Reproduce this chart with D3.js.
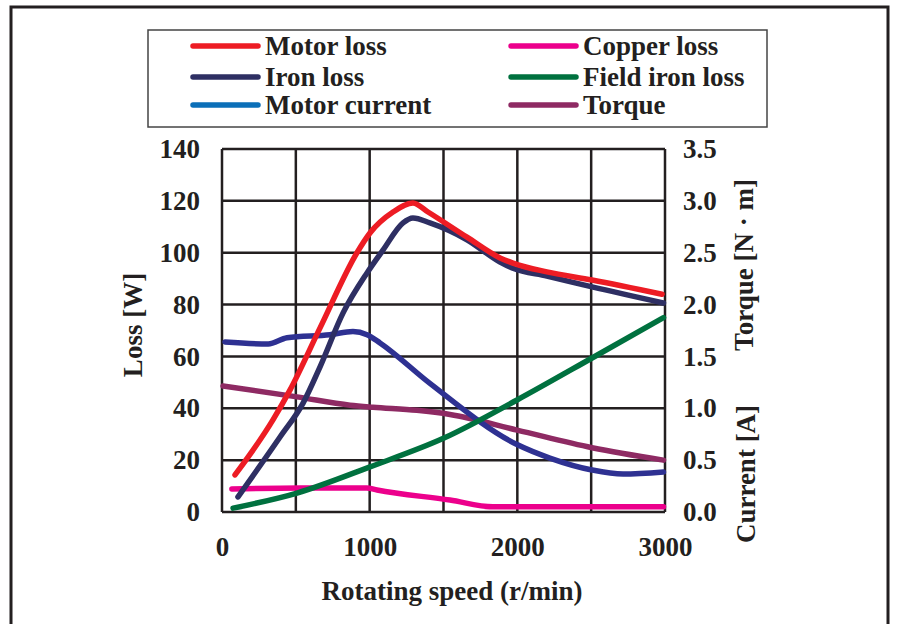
<!DOCTYPE html>
<html>
<head>
<meta charset="utf-8">
<script src="https://cdn.jsdelivr.net/npm/d3@7"></script>
<style>
  body { margin: 0; background: #fff; }
  text { font-family: "Liberation Serif", "Times New Roman", serif; font-weight: bold; fill: #231f20; }
</style>
</head>
<body>
<div id="chart"></div>
<script>
var svgWidth = 898;
var svgHeight = 624;
var plot = { left: 222, right: 665, top: 149, bottom: 512 };

// data (speed in r/min)
var motorLossSpeed = [88, 345, 460, 664, 914, 1002, 1158, 1293, 1395, 1659, 1883, 1970, 2200, 2506, 2980];
var motorLoss = [14.3, 35.5, 47, 71, 100, 107.6, 115.7, 119.2, 115.7, 106, 98, 96, 92.6, 89.5, 84];

var ironLossSpeed = [108, 393, 549, 664, 820, 982, 1090, 1226, 1293, 1408, 1659, 1883, 1970, 2200, 2506, 2990];
var ironLoss = [5.8, 28.9, 42, 56, 76.8, 92.2, 101, 111.5, 113.4, 111.5, 105, 96.4, 94, 91, 86.8, 80.6];

var currentSpeed = [20, 313, 440, 731, 887, 982, 1070, 1408, 1998, 2220, 2506, 2716, 2990];
var motorCurrent = [1.64, 1.62, 1.68, 1.71, 1.74, 1.71, 1.63, 1.24, 0.65, 0.52, 0.405, 0.366, 0.386];

var torqueSpeed = [7, 508, 867, 1023, 1320, 1544, 1998, 2506, 2990];
var torque = [1.215, 1.11, 1.03, 1.01, 0.98, 0.94, 0.79, 0.62, 0.50];

var fieldSpeed = [75, 508, 1002, 1503, 1998, 2506, 2990];
var fieldIronLoss = [1.5, 7.3, 17.4, 28.5, 43.2, 59.4, 75];

var copperSpeed = [67, 528, 980, 1050, 1544, 1835, 2990];
var copperLoss = [8.9, 9.3, 9.3, 8.5, 4.6, 2.0, 2.0];

var xTicks = [0, 1000, 2000, 3000];
var lossTicks = [0, 20, 40, 60, 80, 100, 120, 140];
var rightTicks = [0, 0.5, 1, 1.5, 2, 2.5, 3, 3.5];

var legendNames = ["Motor loss", "Copper loss", "Iron loss", "Field iron loss", "Motor current", "Torque"];
var legendColors = ["#ed1c24", "#ec008c", "#2e2f63", "#00713f", "#0b6fb8", "#8e2a63"];

var svg = d3.select("#chart")
    .append("svg")
    .attr("width", svgWidth)
    .attr("height", svgHeight);

// outer frame
svg.append("rect")
    .attr("x", 11).attr("y", 7)
    .attr("width", 877).attr("height", 660)
    .attr("fill", "none")
    .attr("stroke", "#231f20")
    .attr("stroke-width", 3);

var xScale = d3.scaleLinear().domain([0, 3000]).range([plot.left, plot.right]);
var yLoss = d3.scaleLinear().domain([0, 140]).range([plot.bottom, plot.top]);
var yRight = d3.scaleLinear().domain([0, 3.5]).range([plot.bottom, plot.top]);

// grid
var grid = svg.append("g").attr("stroke", "#231f20").attr("stroke-width", 2.5);
grid.selectAll(".vg")
    .data(xScale.ticks(6))
    .enter().append("line")
    .attr("x1", d => xScale(d)).attr("x2", d => xScale(d))
    .attr("y1", plot.top).attr("y2", plot.bottom);
grid.selectAll(".hg")
    .data(lossTicks)
    .enter().append("line")
    .attr("x1", plot.left).attr("x2", plot.right)
    .attr("y1", d => yLoss(d)).attr("y2", d => yLoss(d));

// axes (labels only)
var leftAxis = d3.axisLeft(yLoss).tickValues(lossTicks).tickSize(0).tickPadding(22);
var rightAxis = d3.axisRight(yRight).tickValues(rightTicks).tickSize(0).tickPadding(18).tickFormat(d3.format(".1f"));
var bottomAxis = d3.axisBottom(xScale).tickValues(xTicks).tickSize(0).tickPadding(25).tickFormat(d3.format("d"));

function styleAxis(g) {
    g.select(".domain").remove();
    g.selectAll("text")
        .attr("font-family", null)
        .style("font-size", "27px")
        .style("fill", "#231f20");
}

svg.append("g").attr("transform", `translate(${plot.left},0)`).call(leftAxis).call(styleAxis);
svg.append("g").attr("transform", `translate(${plot.right},0)`).call(rightAxis).call(styleAxis);
svg.append("g").attr("transform", `translate(0,${plot.bottom})`).call(bottomAxis).call(styleAxis);

// axis titles
svg.append("text")
    .attr("transform", "translate(142,325) rotate(-90)")
    .attr("text-anchor", "middle")
    .style("font-size", "27px")
    .text("Loss [W]");
svg.append("text")
    .attr("transform", "translate(753,265) rotate(-90)")
    .attr("text-anchor", "middle")
    .style("font-size", "27px")
    .text("Torque [N \u00b7 m]");
svg.append("text")
    .attr("transform", "translate(755,474) rotate(-90)")
    .attr("text-anchor", "middle")
    .style("font-size", "27px")
    .text("Current [A]");
svg.append("text")
    .attr("x", 452).attr("y", 600)
    .attr("text-anchor", "middle")
    .style("font-size", "27px")
    .text("Rotating speed (r/min)");

// curves
function pts(xs, ys) {
    return xs.map((x, i) => [x, ys[i]]);
}
var lossLine = d3.line().x(d => xScale(d[0])).y(d => yLoss(d[1])).curve(d3.curveMonotoneX);
var rightLine = d3.line().x(d => xScale(d[0])).y(d => yRight(d[1])).curve(d3.curveMonotoneX);

var series = [
    { data: pts(torqueSpeed, torque), line: rightLine, color: "#8e2a63" },
    { data: pts(currentSpeed, motorCurrent), line: rightLine, color: "#2e3192" },
    { data: pts(copperSpeed, copperLoss), line: lossLine, color: "#ec008c" },
    { data: pts(fieldSpeed, fieldIronLoss), line: lossLine, color: "#00713f" },
    { data: pts(ironLossSpeed, ironLoss), line: lossLine, color: "#2e2f63" },
    { data: pts(motorLossSpeed, motorLoss), line: lossLine, color: "#ed1c24" }
];

svg.selectAll(".curve")
    .data(series)
    .enter().append("path")
    .attr("class", "curve")
    .attr("d", d => d.line(d.data))
    .attr("fill", "none")
    .attr("stroke", d => d.color)
    .attr("stroke-width", 5.5)
    .attr("stroke-linecap", "round")
    .attr("stroke-linejoin", "round");

// legend
svg.append("rect")
    .attr("x", 148).attr("y", 30)
    .attr("width", 619).attr("height", 97)
    .attr("fill", "#fff")
    .attr("stroke", "#444")
    .attr("stroke-width", 1.5);

var legendCols = [193, 511];
var legendRows = [46, 77, 105];
var legend = svg.selectAll(".legend")
    .data(legendNames)
    .enter().append("g")
    .attr("transform", (d, i) => `translate(${legendCols[i % 2]},${legendRows[Math.floor(i / 2)]})`);
legend.append("line")
    .attr("x1", 0).attr("x2", 65)
    .attr("stroke", (d, i) => legendColors[i])
    .attr("stroke-width", 5.5)
    .attr("stroke-linecap", "round");
legend.append("text")
    .attr("x", 72).attr("y", 9)
    .style("font-size", "27px")
    .text(d => d);
</script>
</body>
</html>
